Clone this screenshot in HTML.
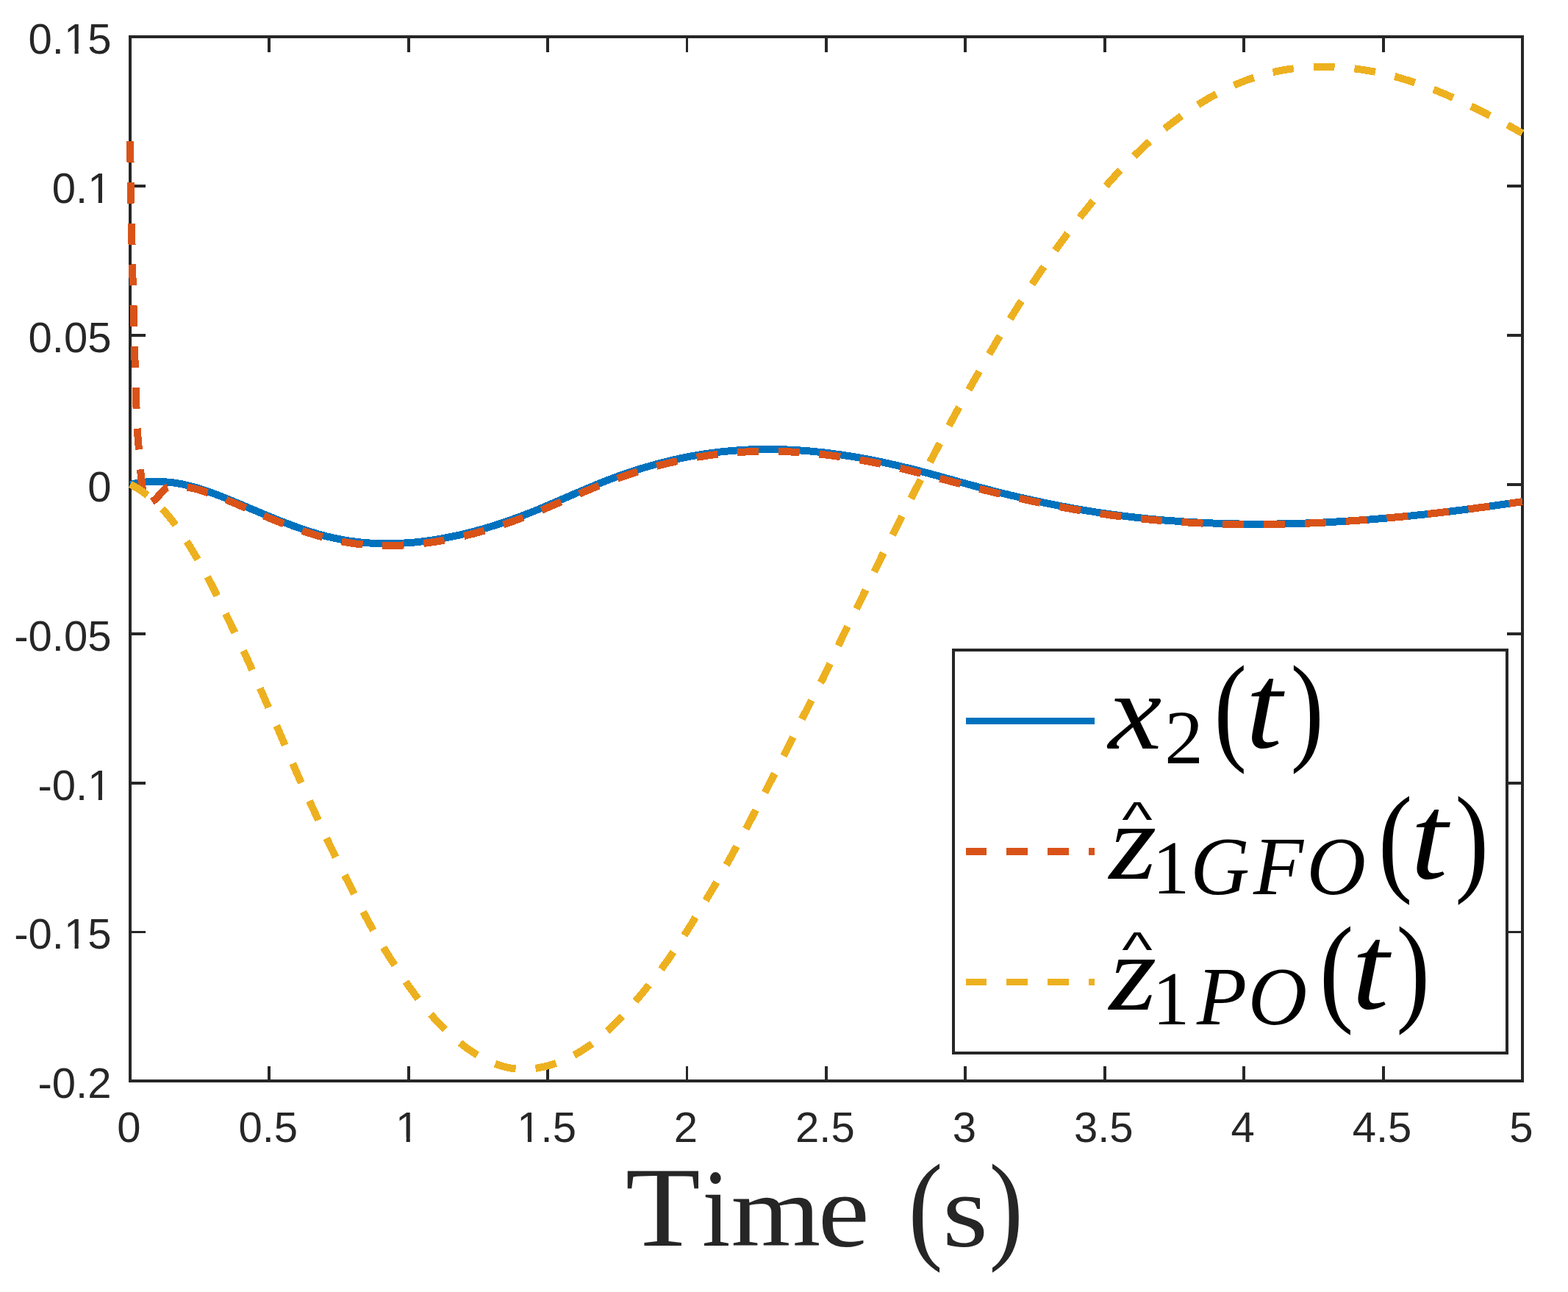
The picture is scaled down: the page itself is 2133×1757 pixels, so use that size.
<!DOCTYPE html>
<html lang="en"><head><meta charset="utf-8"><title>Time response plot</title>
<style>
html,body{margin:0;padding:0;background:#fff;}
body{width:2133px;height:1757px;}
svg{display:block;}
.tk{font-family:"Liberation Sans",sans-serif;}
.tl{font-size:58.00px;fill:#262626;}
.rm{font-family:"Liberation Serif",serif;}
.it{font-family:"Liberation Serif",serif;font-style:italic;}
.ax{stroke:#262626;stroke-width:4;fill:none;stroke-linecap:butt;}
.cv{fill:none;stroke-width:10;stroke-linejoin:round;stroke-linecap:butt;}
</style></head><body>
<svg width="2133" height="1757" viewBox="0 0 2133 1757">
<rect x="0" y="0" width="2133" height="1757" fill="#ffffff"/>
<g class="ax" shape-rendering="crispEdges">
<rect x="177" y="50" width="1894" height="1420"/>
</g>
<path fill="#262626" shape-rendering="crispEdges" d="M364,1450h4v18h-4z M364,52h4v19h-4z M554,1450h4v18h-4z M554,52h4v19h-4z M743,1450h4v18h-4z M743,52h4v19h-4z M933,1450h3v18h-3z M933,52h3v19h-3z M1122,1450h4v18h-4z M1122,52h4v19h-4z M1311,1450h4v18h-4z M1311,52h4v19h-4z M1501,1450h4v18h-4z M1501,52h4v19h-4z M1690,1450h4v18h-4z M1690,52h4v19h-4z M1880,1450h4v18h-4z M1880,52h4v19h-4z M179,1266h19v3h-19z M2050,1266h19v3h-19z M179,1063h19v4h-19z M2050,1063h19v4h-19z M179,860h19v4h-19z M2050,860h19v4h-19z M179,657h19v4h-19z M2050,657h19v4h-19z M179,454h19v4h-19z M2050,454h19v4h-19z M179,251h19v4h-19z M2050,251h19v4h-19z"/>
<g class="tk tl" text-anchor="middle">
<text x="175.4" y="1553.2">0</text>
<text x="364.8" y="1553.2">0.5</text>
<text x="554.2" y="1553.2">1</text>
<text x="743.6" y="1553.2">1.5</text>
<text x="933.0" y="1553.2">2</text>
<text x="1122.4" y="1553.2">2.5</text>
<text x="1311.8" y="1553.2">3</text>
<text x="1501.2" y="1553.2">3.5</text>
<text x="1690.6" y="1553.2">4</text>
<text x="1880.0" y="1553.2">4.5</text>
<text x="2069.4" y="1553.2">5</text>
</g>
<g class="tk tl" text-anchor="end">
<text x="151.5" y="1493.3">-0.2</text>
<text x="151.5" y="1290.4">-0.15</text>
<text x="151.5" y="1087.6">-0.1</text>
<text x="151.5" y="884.7">-0.05</text>
<text x="151.5" y="681.9">0</text>
<text x="151.5" y="479.0">0.05</text>
<text x="151.5" y="276.2">0.1</text>
<text x="151.5" y="73.3">0.15</text>
</g>
<!--MASKS-->
<path class="mk" fill="#ffffff" d="M541.49,1546.37H552.65V1554.70H541.49z M557.78,1546.37H568.49V1554.70H557.78z M706.70,1546.37H717.86V1554.70H706.70z M722.99,1546.37H733.70V1554.70H722.99z M90.39,1283.57H101.55V1291.90H90.39z M106.68,1283.57H117.39V1291.90H106.68z M122.64,1080.77H133.80V1089.10H122.64z M138.93,1080.77H149.64V1089.10H138.93z M122.64,269.37H133.80V277.70H122.64z M138.93,269.37H149.64V277.70H138.93z M90.39,66.47H101.55V74.80H90.39z M106.68,66.47H117.39V74.80H106.68z"/>
<g class="cv" shape-rendering="crispEdges">
<path stroke="#0072BD" d="M177.0,659.0 L180.0,658.3 L183.0,657.7 L186.0,657.1 L189.0,656.6 L192.0,656.2 L195.0,655.8 L198.0,655.5 L201.0,655.2 L204.0,655.1 L207.0,654.9 L210.0,654.9 L213.0,654.8 L216.0,654.9 L219.0,655.0 L222.0,655.1 L225.0,655.3 L228.0,655.6 L231.0,655.9 L234.0,656.2 L237.0,656.6 L240.0,657.1 L243.0,657.6 L246.0,658.1 L249.0,658.7 L252.0,659.4 L255.0,660.1 L258.0,660.8 L261.0,661.6 L264.0,662.4 L267.0,663.2 L270.0,664.1 L273.0,665.1 L276.0,666.0 L279.0,667.0 L282.0,668.1 L285.0,669.1 L288.0,670.2 L291.0,671.3 L294.0,672.4 L297.0,673.6 L300.0,674.7 L303.0,675.9 L306.0,677.1 L309.0,678.4 L312.0,679.6 L315.0,680.8 L318.0,682.1 L321.0,683.3 L324.0,684.6 L327.0,685.8 L330.0,687.1 L333.0,688.4 L336.0,689.6 L339.0,690.9 L342.0,692.2 L345.0,693.4 L348.0,694.7 L351.0,696.0 L354.0,697.2 L357.0,698.5 L360.0,699.7 L363.0,701.0 L366.0,702.2 L369.0,703.4 L372.0,704.7 L375.0,705.9 L378.0,707.1 L381.0,708.3 L384.0,709.4 L387.0,710.6 L390.0,711.7 L393.0,712.9 L396.0,714.0 L399.0,715.1 L402.0,716.2 L405.0,717.3 L408.0,718.3 L411.0,719.4 L414.0,720.4 L417.0,721.4 L420.0,722.3 L423.0,723.3 L426.0,724.2 L429.0,725.1 L432.0,726.0 L435.0,726.9 L438.0,727.7 L441.0,728.5 L444.0,729.3 L447.0,730.0 L450.0,730.7 L453.0,731.4 L456.0,732.1 L459.0,732.7 L462.0,733.3 L465.0,733.8 L468.0,734.4 L471.0,734.9 L474.0,735.4 L477.0,735.8 L480.0,736.2 L483.0,736.6 L486.0,737.0 L489.0,737.3 L492.0,737.6 L495.0,737.9 L498.0,738.2 L501.0,738.4 L504.0,738.6 L507.0,738.8 L510.0,738.9 L513.0,739.0 L516.0,739.1 L519.0,739.2 L522.0,739.3 L525.0,739.3 L528.0,739.3 L531.0,739.2 L534.0,739.2 L537.0,739.1 L540.0,739.0 L543.0,738.9 L546.0,738.8 L549.0,738.6 L552.0,738.4 L555.0,738.2 L558.0,738.0 L561.0,737.7 L564.0,737.5 L567.0,737.2 L570.0,736.8 L573.0,736.5 L576.0,736.2 L579.0,735.8 L582.0,735.4 L585.0,735.0 L588.0,734.5 L591.0,734.1 L594.0,733.6 L597.0,733.1 L600.0,732.6 L603.0,732.1 L606.0,731.5 L609.0,730.9 L612.0,730.3 L615.0,729.7 L618.0,729.1 L621.0,728.5 L624.0,727.8 L627.0,727.1 L630.0,726.4 L633.0,725.7 L636.0,724.9 L639.0,724.2 L642.0,723.4 L645.0,722.6 L648.0,721.8 L651.0,721.0 L654.0,720.2 L657.0,719.3 L660.0,718.4 L663.0,717.5 L666.0,716.6 L669.0,715.7 L672.0,714.8 L675.0,713.8 L678.0,712.9 L681.0,711.9 L684.0,710.9 L687.0,709.8 L690.0,708.8 L693.0,707.8 L696.0,706.7 L699.0,705.6 L702.0,704.5 L705.0,703.4 L708.0,702.3 L711.0,701.2 L714.0,700.0 L717.0,698.9 L720.0,697.7 L723.0,696.5 L726.0,695.3 L729.0,694.1 L732.0,692.9 L735.0,691.6 L738.0,690.4 L741.0,689.1 L744.0,687.8 L747.0,686.6 L750.0,685.3 L753.0,684.0 L756.0,682.7 L759.0,681.4 L762.0,680.1 L765.0,678.8 L768.0,677.5 L771.0,676.2 L774.0,674.9 L777.0,673.6 L780.0,672.3 L783.0,671.0 L786.0,669.7 L789.0,668.5 L792.0,667.2 L795.0,665.9 L798.0,664.6 L801.0,663.4 L804.0,662.1 L807.0,660.9 L810.0,659.6 L813.0,658.4 L816.0,657.2 L819.0,656.0 L822.0,654.8 L825.0,653.6 L828.0,652.5 L831.0,651.3 L834.0,650.2 L837.0,649.1 L840.0,648.0 L843.0,646.9 L846.0,645.8 L849.0,644.8 L852.0,643.7 L855.0,642.7 L858.0,641.7 L861.0,640.7 L864.0,639.8 L867.0,638.8 L870.0,637.9 L873.0,636.9 L876.0,636.0 L879.0,635.1 L882.0,634.3 L885.0,633.4 L888.0,632.6 L891.0,631.7 L894.0,630.9 L897.0,630.1 L900.0,629.3 L903.0,628.6 L906.0,627.8 L909.0,627.1 L912.0,626.4 L915.0,625.7 L918.0,625.0 L921.0,624.3 L924.0,623.7 L927.0,623.0 L930.0,622.4 L933.0,621.8 L936.0,621.2 L939.0,620.7 L942.0,620.1 L945.0,619.6 L948.0,619.1 L951.0,618.5 L954.0,618.1 L957.0,617.6 L960.0,617.1 L963.0,616.7 L966.0,616.3 L969.0,615.9 L972.0,615.5 L975.0,615.1 L978.0,614.7 L981.0,614.4 L984.0,614.1 L987.0,613.8 L990.0,613.5 L993.0,613.2 L996.0,612.9 L999.0,612.7 L1002.0,612.5 L1005.0,612.2 L1008.0,612.0 L1011.0,611.9 L1014.0,611.7 L1017.0,611.6 L1020.0,611.4 L1023.0,611.3 L1026.0,611.2 L1029.0,611.1 L1032.0,611.1 L1035.0,611.0 L1038.0,611.0 L1041.0,610.9 L1044.0,610.9 L1047.0,610.9 L1050.0,611.0 L1053.0,611.0 L1056.0,611.0 L1059.0,611.1 L1062.0,611.2 L1065.0,611.3 L1068.0,611.4 L1071.0,611.5 L1074.0,611.6 L1077.0,611.8 L1080.0,611.9 L1083.0,612.1 L1086.0,612.3 L1089.0,612.5 L1092.0,612.7 L1095.0,613.0 L1098.0,613.2 L1101.0,613.4 L1104.0,613.7 L1107.0,614.0 L1110.0,614.3 L1113.0,614.6 L1116.0,614.9 L1119.0,615.2 L1122.0,615.6 L1125.0,615.9 L1128.0,616.3 L1131.0,616.7 L1134.0,617.1 L1137.0,617.5 L1140.0,617.9 L1143.0,618.3 L1146.0,618.8 L1149.0,619.2 L1152.0,619.7 L1155.0,620.1 L1158.0,620.6 L1161.0,621.1 L1164.0,621.6 L1167.0,622.1 L1170.0,622.7 L1173.0,623.2 L1176.0,623.7 L1179.0,624.3 L1182.0,624.9 L1185.0,625.4 L1188.0,626.0 L1191.0,626.6 L1194.0,627.2 L1197.0,627.9 L1200.0,628.5 L1203.0,629.1 L1206.0,629.8 L1209.0,630.4 L1212.0,631.1 L1215.0,631.8 L1218.0,632.4 L1221.0,633.1 L1224.0,633.8 L1227.0,634.6 L1230.0,635.3 L1233.0,636.0 L1236.0,636.7 L1239.0,637.5 L1242.0,638.2 L1245.0,639.0 L1248.0,639.8 L1251.0,640.5 L1254.0,641.3 L1257.0,642.1 L1260.0,642.9 L1263.0,643.7 L1266.0,644.5 L1269.0,645.3 L1272.0,646.1 L1275.0,647.0 L1278.0,647.8 L1281.0,648.6 L1284.0,649.4 L1287.0,650.3 L1290.0,651.1 L1293.0,651.9 L1296.0,652.8 L1299.0,653.6 L1302.0,654.4 L1305.0,655.3 L1308.0,656.1 L1311.0,656.9 L1314.0,657.7 L1317.0,658.6 L1320.0,659.4 L1323.0,660.2 L1326.0,661.0 L1329.0,661.8 L1332.0,662.6 L1335.0,663.4 L1338.0,664.2 L1341.0,665.0 L1344.0,665.8 L1347.0,666.5 L1350.0,667.3 L1353.0,668.1 L1356.0,668.8 L1359.0,669.6 L1362.0,670.3 L1365.0,671.1 L1368.0,671.8 L1371.0,672.5 L1374.0,673.3 L1377.0,674.0 L1380.0,674.7 L1383.0,675.4 L1386.0,676.1 L1389.0,676.8 L1392.0,677.5 L1395.0,678.1 L1398.0,678.8 L1401.0,679.5 L1404.0,680.1 L1407.0,680.8 L1410.0,681.5 L1413.0,682.1 L1416.0,682.7 L1419.0,683.4 L1422.0,684.0 L1425.0,684.6 L1428.0,685.2 L1431.0,685.8 L1434.0,686.4 L1437.0,687.0 L1440.0,687.6 L1443.0,688.2 L1446.0,688.7 L1449.0,689.3 L1452.0,689.9 L1455.0,690.4 L1458.0,691.0 L1461.0,691.5 L1464.0,692.0 L1467.0,692.5 L1470.0,693.1 L1473.0,693.6 L1476.0,694.1 L1479.0,694.6 L1482.0,695.1 L1485.0,695.5 L1488.0,696.0 L1491.0,696.5 L1494.0,696.9 L1497.0,697.4 L1500.0,697.8 L1503.0,698.3 L1506.0,698.7 L1509.0,699.1 L1512.0,699.5 L1515.0,699.9 L1518.0,700.3 L1521.0,700.7 L1524.0,701.1 L1527.0,701.5 L1530.0,701.9 L1533.0,702.3 L1536.0,702.6 L1539.0,703.0 L1542.0,703.3 L1545.0,703.7 L1548.0,704.0 L1551.0,704.3 L1554.0,704.6 L1557.0,704.9 L1560.0,705.3 L1563.0,705.6 L1566.0,705.8 L1569.0,706.1 L1572.0,706.4 L1575.0,706.7 L1578.0,707.0 L1581.0,707.2 L1584.0,707.5 L1587.0,707.7 L1590.0,708.0 L1593.0,708.2 L1596.0,708.4 L1599.0,708.6 L1602.0,708.9 L1605.0,709.1 L1608.0,709.3 L1611.0,709.5 L1614.0,709.7 L1617.0,709.8 L1620.0,710.0 L1623.0,710.2 L1626.0,710.4 L1629.0,710.5 L1632.0,710.7 L1635.0,710.8 L1638.0,711.0 L1641.0,711.1 L1644.0,711.2 L1647.0,711.4 L1650.0,711.5 L1653.0,711.6 L1656.0,711.7 L1659.0,711.8 L1662.0,711.9 L1665.0,712.0 L1668.0,712.1 L1671.0,712.1 L1674.0,712.2 L1677.0,712.3 L1680.0,712.3 L1683.0,712.4 L1686.0,712.5 L1689.0,712.5 L1692.0,712.5 L1695.0,712.6 L1698.0,712.6 L1701.0,712.6 L1704.0,712.6 L1707.0,712.6 L1710.0,712.7 L1713.0,712.7 L1716.0,712.7 L1719.0,712.6 L1722.0,712.6 L1725.0,712.6 L1728.0,712.6 L1731.0,712.6 L1734.0,712.5 L1737.0,712.5 L1740.0,712.4 L1743.0,712.4 L1746.0,712.3 L1749.0,712.3 L1752.0,712.2 L1755.0,712.1 L1758.0,712.1 L1761.0,712.0 L1764.0,711.9 L1767.0,711.8 L1770.0,711.7 L1773.0,711.6 L1776.0,711.5 L1779.0,711.4 L1782.0,711.3 L1785.0,711.2 L1788.0,711.0 L1791.0,710.9 L1794.0,710.8 L1797.0,710.6 L1800.0,710.5 L1803.0,710.3 L1806.0,710.2 L1809.0,710.0 L1812.0,709.9 L1815.0,709.7 L1818.0,709.5 L1821.0,709.4 L1824.0,709.2 L1827.0,709.0 L1830.0,708.8 L1833.0,708.6 L1836.0,708.4 L1839.0,708.2 L1842.0,708.0 L1845.0,707.8 L1848.0,707.6 L1851.0,707.4 L1854.0,707.2 L1857.0,707.0 L1860.0,706.7 L1863.0,706.5 L1866.0,706.3 L1869.0,706.0 L1872.0,705.8 L1875.0,705.5 L1878.0,705.3 L1881.0,705.0 L1884.0,704.8 L1887.0,704.5 L1890.0,704.2 L1893.0,704.0 L1896.0,703.7 L1899.0,703.4 L1902.0,703.1 L1905.0,702.8 L1908.0,702.5 L1911.0,702.3 L1914.0,702.0 L1917.0,701.7 L1920.0,701.4 L1923.0,701.0 L1926.0,700.7 L1929.0,700.4 L1932.0,700.1 L1935.0,699.8 L1938.0,699.5 L1941.0,699.1 L1944.0,698.8 L1947.0,698.5 L1950.0,698.1 L1953.0,697.8 L1956.0,697.4 L1959.0,697.1 L1962.0,696.7 L1965.0,696.4 L1968.0,696.0 L1971.0,695.7 L1974.0,695.3 L1977.0,694.9 L1980.0,694.6 L1983.0,694.2 L1986.0,693.8 L1989.0,693.5 L1992.0,693.1 L1995.0,692.7 L1998.0,692.3 L2001.0,691.9 L2004.0,691.5 L2007.0,691.1 L2010.0,690.7 L2013.0,690.3 L2016.0,689.9 L2019.0,689.5 L2022.0,689.1 L2025.0,688.7 L2028.0,688.3 L2031.0,687.9 L2034.0,687.4 L2037.0,687.0 L2040.0,686.6 L2043.0,686.2 L2046.0,685.7 L2049.0,685.3 L2052.0,684.9 L2055.0,684.4 L2058.0,684.0 L2061.0,683.6 L2064.0,683.1 L2067.0,682.7 L2070.0,682.2 L2071.0,682.1"/>
<path stroke="#D95319" stroke-dasharray="28.9 26.94" d="M177.0,192.0 L177.0,194.0 L177.1,196.0 L177.1,198.0 L177.1,200.0 L177.2,202.0 L177.2,204.0 L177.2,206.0 L177.3,208.0 L177.3,210.0 L177.3,212.0 L177.4,214.0 L177.4,216.0 L177.4,218.0 L177.5,220.0 L177.5,222.0 L177.5,224.0 L177.6,226.0 L177.6,228.0 L177.6,230.0 L177.7,232.0 L177.7,234.0 L177.7,236.0 L177.8,238.0 L177.8,240.0 L177.9,242.0 L177.9,244.0 L177.9,246.0 L178.0,248.0 L178.0,250.0 L178.0,252.0 L178.1,254.0 L178.1,256.0 L178.1,258.0 L178.2,260.0 L178.2,262.0 L178.2,264.0 L178.3,266.0 L178.3,268.0 L178.3,270.0 L178.4,272.0 L178.4,274.0 L178.4,276.0 L178.5,278.0 L178.5,280.0 L178.5,282.0 L178.6,284.0 L178.6,286.0 L178.7,288.0 L178.7,290.0 L178.7,292.0 L178.8,294.0 L178.8,296.0 L178.8,298.0 L178.9,300.0 L178.9,302.0 L178.9,304.0 L179.0,306.0 L179.0,308.0 L179.0,310.0 L179.1,312.0 L179.1,314.0 L179.2,316.0 L179.2,318.0 L179.2,320.0 L179.3,322.0 L179.3,324.0 L179.4,326.0 L179.4,328.0 L179.4,330.0 L179.5,332.0 L179.5,334.0 L179.6,336.0 L179.6,338.0 L179.6,340.0 L179.7,342.0 L179.7,344.0 L179.8,346.0 L179.8,348.0 L179.9,350.0 L179.9,352.0 L179.9,354.0 L180.0,356.0 L180.0,358.0 L180.1,360.0 L180.1,362.0 L180.2,364.0 L180.2,366.0 L180.3,368.0 L180.3,370.0 L180.4,372.0 L180.4,374.0 L180.4,376.0 L180.5,378.0 L180.5,380.0 L180.6,382.0 L180.6,384.0 L180.7,386.0 L180.7,388.0 L180.8,390.0 L180.8,392.0 L180.9,394.0 L181.0,396.0 L181.0,398.0 L181.1,400.0 L181.1,402.0 L181.2,404.0 L181.2,406.0 L181.3,408.0 L181.3,410.0 L181.4,412.0 L181.4,414.0 L181.5,416.0 L181.6,418.0 L181.6,420.0 L181.7,422.0 L181.7,424.0 L181.8,425.9 L181.8,427.9 L181.9,429.9 L182.0,431.9 L182.0,433.9 L182.1,435.9 L182.1,437.9 L182.2,439.9 L182.2,441.9 L182.3,443.9 L182.3,445.9 L182.4,447.9 L182.4,449.9 L182.5,451.9 L182.6,453.9 L182.6,455.9 L182.7,457.9 L182.7,459.9 L182.8,461.9 L182.8,463.9 L182.9,465.9 L182.9,467.9 L183.0,469.9 L183.0,471.9 L183.1,473.9 L183.1,475.9 L183.2,477.9 L183.2,479.9 L183.3,481.9 L183.3,483.9 L183.4,485.9 L183.4,487.9 L183.5,489.9 L183.5,491.9 L183.6,493.9 L183.7,495.9 L183.7,497.9 L183.8,499.9 L183.8,501.9 L183.9,503.9 L183.9,505.9 L184.0,507.9 L184.0,509.9 L184.1,511.9 L184.2,513.9 L184.2,515.9 L184.3,517.9 L184.3,519.9 L184.4,521.9 L184.5,523.9 L184.5,525.9 L184.6,527.9 L184.7,529.9 L184.7,531.9 L184.8,533.9 L184.9,535.9 L184.9,537.9 L185.0,539.9 L185.1,541.9 L185.1,543.9 L185.2,545.9 L185.3,547.9 L185.4,549.9 L185.4,551.9 L185.5,553.9 L185.6,555.9 L185.7,557.9 L185.8,559.9 L185.8,561.9 L185.9,563.9 L186.0,565.9 L186.1,567.9 L186.2,569.9 L186.3,571.9 L186.4,573.9 L186.5,575.9 L186.6,577.9 L186.6,579.9 L186.7,581.9 L186.8,583.9 L187.0,585.9 L187.1,587.9 L187.2,589.9 L187.4,591.8 L187.5,593.8 L187.7,595.8 L187.8,597.8 L188.0,599.8 L188.2,601.8 L188.3,603.8 L188.5,605.8 L188.7,607.8 L188.8,609.8 L189.0,611.8 L189.2,613.8 L189.3,615.8 L189.4,617.8 L189.6,619.8 L189.7,621.8 L189.9,623.8 L190.0,625.7 L190.2,627.7 L190.3,629.7 L190.5,631.7 L190.7,633.7 L190.8,635.7 L191.0,637.7 L191.2,639.7 L191.3,641.7 L191.5,643.7 L191.7,645.7 L191.9,647.7 L192.1,649.7 L192.3,651.7 L192.5,653.7 L192.7,655.6 L192.9,657.6 L193.1,659.6 L193.4,661.6 L193.6,663.6 L193.9,665.6 L194.1,667.6 L194.4,669.6 L194.7,671.6 L195.1,673.6 L195.5,675.6 L195.9,677.5 L196.4,679.3 L197.1,681.4 L198.1,683.6 L199.4,684.7 L201.2,684.6 L203.3,684.2 L205.1,683.5 L206.9,682.4 L208.5,681.3 L210.0,680.1 L211.5,678.7 L212.9,677.3 L214.3,675.8 L215.7,674.3 L217.1,672.9 L218.5,671.4 L219.9,669.8 L221.3,668.1 L222.7,666.5 L224.1,665.1 L225.6,664.0 L227.2,663.2 L229.0,662.6 L230.8,662.2 L232.8,661.7 L234.9,661.4 L237.0,661.2 L239.0,661.0 L241.0,661.0 L243.0,661.1 L245.0,661.3 L247.0,661.5 L249.0,661.8 L251.0,662.1 L252.9,662.4 L254.9,662.7 L256.9,663.1 L258.8,663.4 L260.8,663.8 L262.7,664.2 L264.7,664.6 L266.6,665.1 L268.5,665.6 L270.5,666.1 L272.4,666.7 L274.3,667.3 L276.2,667.9 L278.2,668.5 L280.1,669.2 L282.0,669.8 L283.8,670.2 L286.8,671.3 L289.8,672.4 L292.8,673.5 L295.8,674.7 L298.8,675.9 L301.8,677.1 L304.8,678.3 L307.8,679.6 L310.8,680.8 L313.8,682.1 L316.8,683.3 L319.8,684.6 L322.8,685.9 L325.8,687.2 L328.8,688.5 L331.8,689.8 L334.8,691.0 L337.8,692.3 L340.8,693.6 L343.8,694.9 L346.8,696.2 L349.8,697.5 L352.8,698.7 L355.8,700.0 L358.8,701.3 L361.8,702.5 L364.8,703.8 L367.8,705.1 L370.8,706.3 L373.8,707.5 L376.8,708.7 L379.8,710.0 L382.8,711.2 L385.8,712.3 L388.8,713.5 L391.8,714.7 L394.8,715.8 L397.8,717.0 L400.8,718.1 L403.8,719.2 L406.8,720.2 L409.8,721.3 L412.8,722.3 L415.8,723.4 L418.8,724.4 L421.8,725.3 L424.8,726.3 L427.8,727.2 L430.8,728.1 L433.8,729.0 L436.8,729.9 L439.8,730.7 L442.8,731.5 L445.8,732.3 L448.8,733.0 L451.8,733.7 L454.8,734.4 L457.8,735.0 L460.8,735.7 L463.8,736.3 L466.8,736.8 L469.8,737.3 L472.8,737.8 L475.8,738.3 L478.8,738.8 L481.8,739.2 L484.8,739.6 L487.8,739.9 L490.8,740.2 L493.8,740.5 L496.8,740.8 L499.8,741.1 L502.8,741.3 L505.8,741.5 L508.8,741.6 L511.8,741.8 L514.8,741.9 L517.8,742.0 L520.8,742.0 L523.8,742.1 L526.8,742.1 L529.8,742.1 L532.8,742.0 L535.8,742.0 L538.8,741.9 L541.8,741.8 L544.8,741.6 L547.8,741.5 L550.8,741.3 L553.8,741.1 L556.8,740.9 L559.8,740.6 L562.8,740.4 L565.8,740.1 L568.8,739.8 L571.8,739.4 L574.8,739.1 L577.8,738.7 L580.8,738.3 L583.8,737.9 L586.8,737.5 L589.8,737.1 L592.8,736.6 L595.8,736.1 L598.8,735.6 L601.8,735.1 L604.8,734.5 L607.8,734.0 L610.8,733.4 L613.8,732.8 L616.8,732.2 L619.8,731.5 L622.8,730.9 L625.8,730.2 L628.8,729.5 L631.8,728.8 L634.8,728.0 L637.8,727.3 L640.8,726.5 L643.8,725.8 L646.8,725.0 L649.8,724.1 L652.8,723.3 L655.8,722.5 L658.8,721.6 L661.8,720.7 L664.8,719.8 L667.8,718.9 L670.8,718.0 L673.8,717.0 L676.8,716.0 L679.8,715.1 L682.8,714.1 L685.8,713.1 L688.8,712.0 L691.8,711.0 L694.8,709.9 L697.8,708.9 L700.8,707.8 L703.8,706.7 L706.8,705.6 L709.8,704.4 L712.8,703.3 L715.8,702.1 L718.8,701.0 L721.8,699.8 L724.8,698.6 L727.8,697.4 L730.8,696.1 L733.8,694.9 L736.8,693.7 L739.8,692.4 L742.8,691.2 L745.8,689.9 L748.8,688.6 L751.8,687.3 L754.8,686.0 L757.8,684.7 L760.8,683.5 L763.8,682.2 L766.8,680.9 L769.8,679.6 L772.8,678.3 L775.8,677.0 L778.8,675.7 L781.8,674.4 L784.8,673.1 L787.8,671.8 L790.8,670.5 L793.8,669.2 L796.8,667.9 L799.8,666.7 L802.8,665.4 L805.8,664.2 L808.8,662.9 L811.8,661.7 L814.8,660.5 L817.8,659.3 L820.8,658.1 L823.8,656.9 L826.8,655.7 L829.8,654.6 L832.8,653.4 L835.8,652.3 L838.8,651.2 L841.8,650.1 L844.8,649.0 L847.8,648.0 L850.8,647.0 L853.8,645.9 L856.8,644.9 L859.8,643.9 L862.8,642.9 L865.8,642.0 L868.8,641.0 L871.8,640.1 L874.8,639.2 L877.8,638.3 L880.8,637.4 L883.8,636.5 L886.8,635.7 L889.8,634.9 L892.8,634.0 L895.8,633.2 L898.8,632.5 L901.8,631.7 L904.8,630.9 L907.8,630.2 L910.8,629.5 L913.8,628.8 L916.8,628.1 L919.8,627.4 L922.8,626.7 L925.8,626.1 L928.8,625.5 L931.8,624.9 L934.8,624.3 L937.8,623.7 L940.8,623.1 L943.8,622.6 L946.8,622.1 L949.8,621.5 L952.8,621.0 L955.8,620.6 L958.8,620.1 L961.8,619.7 L964.8,619.2 L967.8,618.8 L970.8,618.4 L973.8,618.0 L976.8,617.7 L979.8,617.3 L982.8,617.0 L985.8,616.7 L988.8,616.4 L991.8,616.1 L994.8,615.8 L997.8,615.6 L1000.8,615.3 L1003.8,615.1 L1006.8,614.9 L1009.8,614.7 L1012.8,614.6 L1015.8,614.4 L1018.8,614.3 L1021.8,614.2 L1024.8,614.1 L1027.8,614.0 L1030.8,613.9 L1033.8,613.8 L1036.8,613.8 L1039.8,613.7 L1042.8,613.7 L1045.8,613.7 L1048.8,613.7 L1051.8,613.8 L1054.8,613.8 L1057.8,613.9 L1060.8,613.9 L1063.8,614.0 L1066.8,614.1 L1069.8,614.3 L1072.8,614.4 L1075.8,614.5 L1078.8,614.7 L1081.8,614.8 L1084.8,615.0 L1087.8,615.2 L1090.8,615.4 L1093.8,615.7 L1096.8,615.9 L1099.8,616.1 L1102.8,616.4 L1105.8,616.7 L1108.8,617.0 L1111.8,617.3 L1114.8,617.6 L1117.8,617.9 L1120.8,618.2 L1123.8,618.6 L1126.8,619.0 L1129.8,619.3 L1132.8,619.7 L1135.8,620.1 L1138.8,620.5 L1141.8,620.9 L1144.8,621.4 L1147.8,621.8 L1150.8,622.3 L1153.8,622.7 L1156.8,623.2 L1159.8,623.7 L1162.8,624.2 L1165.8,624.7 L1168.8,625.2 L1171.8,625.8 L1174.8,626.3 L1177.8,626.9 L1180.8,627.4 L1183.8,628.0 L1186.8,628.6 L1189.8,629.2 L1192.8,629.8 L1195.8,630.4 L1198.8,631.0 L1201.8,631.7 L1204.8,632.3 L1207.8,633.0 L1210.8,633.6 L1213.8,634.3 L1216.8,635.0 L1219.8,635.7 L1222.8,636.4 L1225.8,637.1 L1228.8,637.8 L1231.8,638.5 L1234.8,639.2 L1237.8,640.0 L1240.8,640.7 L1243.8,641.5 L1246.8,642.3 L1249.8,643.0 L1252.8,643.8 L1255.8,644.6 L1258.8,645.4 L1261.8,646.2 L1264.8,647.0 L1267.8,647.8 L1270.8,648.6 L1273.8,649.4 L1276.8,650.2 L1279.8,651.0 L1282.8,651.8 L1285.8,652.6 L1288.8,653.4 L1291.8,654.2 L1294.8,655.0 L1297.8,655.8 L1300.8,656.6 L1303.8,657.4 L1306.8,658.2 L1309.8,659.0 L1312.8,659.7 L1315.8,660.5 L1318.8,661.3 L1321.8,662.1 L1324.8,662.9 L1327.8,663.6 L1330.8,664.4 L1333.8,665.2 L1336.8,665.9 L1339.8,666.7 L1342.8,667.4 L1345.8,668.1 L1348.8,668.9 L1351.8,669.6 L1354.8,670.3 L1357.8,671.0 L1360.8,671.8 L1363.8,672.5 L1366.8,673.2 L1369.8,673.9 L1372.8,674.6 L1375.8,675.3 L1378.8,675.9 L1381.8,676.6 L1384.8,677.3 L1387.8,678.0 L1390.8,678.6 L1393.8,679.3 L1396.8,680.0 L1399.8,680.6 L1402.8,681.3 L1405.8,681.9 L1408.8,682.6 L1411.8,683.2 L1414.8,683.8 L1417.8,684.4 L1420.8,685.1 L1423.8,685.7 L1426.8,686.3 L1429.8,686.9 L1432.8,687.5 L1435.8,688.0 L1438.8,688.6 L1441.8,689.2 L1444.8,689.8 L1447.8,690.3 L1450.8,690.9 L1453.8,691.4 L1456.8,692.0 L1459.8,692.5 L1462.8,693.0 L1465.8,693.5 L1468.8,694.0 L1471.8,694.6 L1474.8,695.1 L1477.8,695.5 L1480.8,696.0 L1483.8,696.5 L1486.8,697.0 L1489.8,697.4 L1492.8,697.9 L1495.8,698.3 L1498.8,698.8 L1501.8,699.2 L1504.8,699.6 L1507.8,700.1 L1510.8,700.5 L1513.8,700.9 L1516.8,701.3 L1519.8,701.7 L1522.8,702.0 L1525.8,702.4 L1528.8,702.8 L1531.8,703.2 L1534.8,703.5 L1537.8,703.9 L1540.8,704.2 L1543.8,704.5 L1546.8,704.9 L1549.8,705.2 L1552.8,705.5 L1555.8,705.8 L1558.8,706.1 L1561.8,706.4 L1564.8,706.7 L1567.8,707.0 L1570.8,707.2 L1573.8,707.5 L1576.8,707.8 L1579.8,708.0 L1582.8,708.3 L1585.8,708.5 L1588.8,708.7 L1591.8,709.0 L1594.8,709.2 L1597.8,709.4 L1600.8,709.6 L1603.8,709.8 L1606.8,710.0 L1609.8,710.2 L1612.8,710.4 L1615.8,710.5 L1618.8,710.7 L1621.8,710.9 L1624.8,711.0 L1627.8,711.2 L1630.8,711.3 L1633.8,711.5 L1636.8,711.6 L1639.8,711.7 L1642.8,711.9 L1645.8,712.0 L1648.8,712.1 L1651.8,712.2 L1654.8,712.3 L1657.8,712.4 L1660.8,712.5 L1663.8,712.6 L1666.8,712.6 L1669.8,712.7 L1672.8,712.8 L1675.8,712.8 L1678.8,712.9 L1681.8,712.9 L1684.8,713.0 L1687.8,713.0 L1690.8,713.0 L1693.8,713.1 L1696.8,713.1 L1699.8,713.1 L1702.8,713.1 L1705.8,713.1 L1708.8,713.1 L1711.8,713.1 L1714.8,713.1 L1717.8,713.1 L1720.8,713.1 L1723.8,713.0 L1726.8,713.0 L1729.8,713.0 L1732.8,712.9 L1735.8,712.9 L1738.8,712.8 L1741.8,712.8 L1744.8,712.7 L1747.8,712.6 L1750.8,712.6 L1753.8,712.5 L1756.8,712.4 L1759.8,712.3 L1762.8,712.2 L1765.8,712.1 L1768.8,712.0 L1771.8,711.9 L1774.8,711.8 L1777.8,711.7 L1780.8,711.6 L1783.8,711.4 L1786.8,711.3 L1789.8,711.2 L1792.8,711.0 L1795.8,710.9 L1798.8,710.7 L1801.8,710.6 L1804.8,710.4 L1807.8,710.3 L1810.8,710.1 L1813.8,709.9 L1816.8,709.7 L1819.8,709.6 L1822.8,709.4 L1825.8,709.2 L1828.8,709.0 L1831.8,708.8 L1834.8,708.6 L1837.8,708.4 L1840.8,708.2 L1843.8,708.0 L1846.8,707.8 L1849.8,707.5 L1852.8,707.3 L1855.8,707.1 L1858.8,706.9 L1861.8,706.6 L1864.8,706.4 L1867.8,706.1 L1870.8,705.9 L1873.8,705.6 L1876.8,705.4 L1879.8,705.1 L1882.8,704.9 L1885.8,704.6 L1888.8,704.3 L1891.8,704.1 L1894.8,703.8 L1897.8,703.5 L1900.8,703.2 L1903.8,703.0 L1906.8,702.7 L1909.8,702.4 L1912.8,702.1 L1915.8,701.8 L1918.8,701.5 L1921.8,701.2 L1924.8,700.9 L1927.8,700.5 L1930.8,700.2 L1933.8,699.9 L1936.8,699.6 L1939.8,699.3 L1942.8,698.9 L1945.8,698.6 L1948.8,698.3 L1951.8,697.9 L1954.8,697.6 L1957.8,697.2 L1960.8,696.9 L1963.8,696.5 L1966.8,696.2 L1969.8,695.8 L1972.8,695.5 L1975.8,695.1 L1978.8,694.7 L1981.8,694.4 L1984.8,694.0 L1987.8,693.6 L1990.8,693.2 L1993.8,692.8 L1996.8,692.5 L1999.8,692.1 L2002.8,691.7 L2005.8,691.3 L2008.8,690.9 L2011.8,690.5 L2014.8,690.1 L2017.8,689.7 L2020.8,689.3 L2023.8,688.9 L2026.8,688.4 L2029.8,688.0 L2032.8,687.6 L2035.8,687.2 L2038.8,686.8 L2041.8,686.3 L2044.8,685.9 L2047.8,685.5 L2050.8,685.1 L2053.8,684.6 L2056.8,684.2 L2059.8,683.7 L2062.8,683.3 L2065.8,682.9 L2068.8,682.4 L2071.0,682.1"/>
<path stroke="#EDB120" stroke-dasharray="28.8 27.01" stroke-dashoffset="0.8" d="M177.0,658.6 L180.0,660.1 L183.0,661.8 L186.0,663.5 L189.0,665.4 L192.0,667.3 L195.0,669.4 L198.0,671.6 L201.0,673.9 L204.0,676.3 L207.0,678.9 L210.0,681.6 L213.0,684.4 L216.0,687.3 L219.0,690.4 L222.0,693.6 L225.0,696.9 L228.0,700.4 L231.0,704.0 L234.0,707.8 L237.0,711.7 L240.0,715.8 L243.0,720.0 L246.0,724.3 L249.0,728.7 L252.0,733.3 L255.0,737.9 L258.0,742.6 L261.0,747.5 L264.0,752.4 L267.0,757.4 L270.0,762.6 L273.0,767.8 L276.0,773.1 L279.0,778.6 L282.0,784.1 L285.0,789.8 L288.0,795.6 L291.0,801.6 L294.0,807.6 L297.0,813.8 L300.0,820.0 L303.0,826.2 L306.0,832.5 L309.0,838.8 L312.0,845.1 L315.0,851.3 L318.0,857.5 L321.0,863.7 L324.0,870.0 L327.0,876.2 L330.0,882.5 L333.0,888.9 L336.0,895.4 L339.0,902.0 L342.0,908.8 L345.0,915.6 L348.0,922.5 L351.0,929.4 L354.0,936.4 L357.0,943.3 L360.0,950.2 L363.0,957.0 L366.0,963.8 L369.0,970.5 L372.0,977.3 L375.0,984.1 L378.0,990.9 L381.0,997.8 L384.0,1004.7 L387.0,1011.8 L390.0,1018.8 L393.0,1025.9 L396.0,1033.0 L399.0,1040.0 L402.0,1047.0 L405.0,1053.9 L408.0,1060.6 L411.0,1067.3 L414.0,1073.9 L417.0,1080.5 L420.0,1087.1 L423.0,1093.6 L426.0,1100.1 L429.0,1106.6 L432.0,1113.2 L435.0,1119.7 L438.0,1126.3 L441.0,1132.8 L444.0,1139.2 L447.0,1145.6 L450.0,1151.9 L453.0,1158.2 L456.0,1164.3 L459.0,1170.4 L462.0,1176.4 L465.0,1182.4 L468.0,1188.3 L471.0,1194.3 L474.0,1200.2 L477.0,1206.2 L480.0,1212.2 L483.0,1218.1 L486.0,1224.1 L489.0,1230.0 L492.0,1235.9 L495.0,1241.7 L498.0,1247.4 L501.0,1253.0 L504.0,1258.5 L507.0,1263.8 L510.0,1269.0 L513.0,1274.2 L516.0,1279.2 L519.0,1284.2 L522.0,1289.1 L525.0,1293.9 L528.0,1298.7 L531.0,1303.4 L534.0,1308.1 L537.0,1312.8 L540.0,1317.3 L543.0,1321.9 L546.0,1326.4 L549.0,1330.8 L552.0,1335.2 L555.0,1339.5 L558.0,1343.7 L561.0,1347.8 L564.0,1351.9 L567.0,1355.9 L570.0,1359.8 L573.0,1363.7 L576.0,1367.5 L579.0,1371.1 L582.0,1374.7 L585.0,1378.3 L588.0,1381.7 L591.0,1385.1 L594.0,1388.4 L597.0,1391.6 L600.0,1394.7 L603.0,1397.7 L606.0,1400.7 L609.0,1403.5 L612.0,1406.3 L615.0,1409.0 L618.0,1411.7 L621.0,1414.2 L624.0,1416.7 L627.0,1419.1 L630.0,1421.4 L633.0,1423.7 L636.0,1425.9 L639.0,1428.0 L642.0,1430.0 L645.0,1432.0 L648.0,1433.9 L651.0,1435.7 L654.0,1437.4 L657.0,1439.0 L660.0,1440.6 L663.0,1442.1 L666.0,1443.5 L669.0,1444.8 L672.0,1446.0 L675.0,1447.2 L678.0,1448.2 L681.0,1449.2 L684.0,1450.1 L687.0,1450.9 L690.0,1451.6 L693.0,1452.2 L696.0,1452.7 L699.0,1453.1 L702.0,1453.4 L705.0,1453.7 L708.0,1453.8 L711.0,1453.9 L714.0,1453.9 L717.0,1453.8 L720.0,1453.7 L723.0,1453.4 L726.0,1453.1 L729.0,1452.7 L732.0,1452.2 L735.0,1451.7 L738.0,1451.1 L741.0,1450.4 L744.0,1449.6 L747.0,1448.8 L750.0,1447.9 L753.0,1447.0 L756.0,1446.0 L759.0,1444.9 L762.0,1443.7 L765.0,1442.5 L768.0,1441.2 L771.0,1439.8 L774.0,1438.4 L777.0,1436.9 L780.0,1435.3 L783.0,1433.7 L786.0,1432.0 L789.0,1430.2 L792.0,1428.3 L795.0,1426.4 L798.0,1424.4 L801.0,1422.3 L804.0,1420.2 L807.0,1418.0 L810.0,1415.7 L813.0,1413.4 L816.0,1410.9 L819.0,1408.4 L822.0,1405.9 L825.0,1403.2 L828.0,1400.5 L831.0,1397.7 L834.0,1394.8 L837.0,1391.8 L840.0,1388.8 L843.0,1385.6 L846.0,1382.4 L849.0,1379.2 L852.0,1375.9 L855.0,1372.5 L858.0,1369.1 L861.0,1365.6 L864.0,1362.1 L867.0,1358.6 L870.0,1355.0 L873.0,1351.4 L876.0,1347.8 L879.0,1344.1 L882.0,1340.4 L885.0,1336.7 L888.0,1332.9 L891.0,1329.1 L894.0,1325.2 L897.0,1321.3 L900.0,1317.3 L903.0,1313.2 L906.0,1309.1 L909.0,1304.9 L912.0,1300.5 L915.0,1296.1 L918.0,1291.7 L921.0,1287.2 L924.0,1282.6 L927.0,1277.9 L930.0,1273.3 L933.0,1268.5 L936.0,1263.8 L939.0,1259.0 L942.0,1254.2 L945.0,1249.3 L948.0,1244.4 L951.0,1239.5 L954.0,1234.6 L957.0,1229.6 L960.0,1224.7 L963.0,1219.6 L966.0,1214.6 L969.0,1209.5 L972.0,1204.4 L975.0,1199.2 L978.0,1194.0 L981.0,1188.8 L984.0,1183.5 L987.0,1178.2 L990.0,1172.8 L993.0,1167.4 L996.0,1162.0 L999.0,1156.5 L1002.0,1151.0 L1005.0,1145.4 L1008.0,1139.8 L1011.0,1134.2 L1014.0,1128.5 L1017.0,1122.9 L1020.0,1117.2 L1023.0,1111.5 L1026.0,1105.7 L1029.0,1100.0 L1032.0,1094.2 L1035.0,1088.5 L1038.0,1082.7 L1041.0,1076.9 L1044.0,1071.1 L1047.0,1065.3 L1050.0,1059.4 L1053.0,1053.6 L1056.0,1047.7 L1059.0,1041.8 L1062.0,1035.9 L1065.0,1030.0 L1068.0,1024.0 L1071.0,1018.0 L1074.0,1012.0 L1077.0,1005.9 L1080.0,999.8 L1083.0,993.7 L1086.0,987.7 L1089.0,981.6 L1092.0,975.6 L1095.0,969.7 L1098.0,963.8 L1101.0,958.1 L1104.0,952.3 L1107.0,946.6 L1110.0,940.9 L1113.0,935.1 L1116.0,929.3 L1119.0,923.4 L1122.0,917.3 L1125.0,911.1 L1128.0,904.8 L1131.0,898.4 L1134.0,891.9 L1137.0,885.4 L1140.0,878.9 L1143.0,872.5 L1146.0,866.2 L1149.0,859.9 L1152.0,853.8 L1155.0,847.8 L1158.0,841.8 L1161.0,835.9 L1164.0,829.9 L1167.0,824.0 L1170.0,817.9 L1173.0,811.8 L1176.0,805.7 L1179.0,799.4 L1182.0,793.1 L1185.0,786.8 L1188.0,780.5 L1191.0,774.2 L1194.0,768.0 L1197.0,761.8 L1200.0,755.7 L1203.0,749.6 L1206.0,743.6 L1209.0,737.6 L1212.0,731.7 L1215.0,725.8 L1218.0,719.8 L1221.0,713.9 L1224.0,708.0 L1227.0,702.0 L1230.0,696.1 L1233.0,690.2 L1236.0,684.2 L1239.0,678.3 L1242.0,672.5 L1245.0,666.6 L1248.0,660.8 L1251.0,655.1 L1254.0,649.4 L1257.0,643.7 L1260.0,638.0 L1263.0,632.3 L1266.0,626.6 L1269.0,620.9 L1272.0,615.2 L1275.0,609.5 L1278.0,603.8 L1281.0,598.1 L1284.0,592.3 L1287.0,586.6 L1290.0,581.0 L1293.0,575.3 L1296.0,569.7 L1299.0,564.2 L1302.0,558.6 L1305.0,553.2 L1308.0,547.8 L1311.0,542.4 L1314.0,537.0 L1317.0,531.7 L1320.0,526.4 L1323.0,521.1 L1326.0,515.8 L1329.0,510.6 L1332.0,505.3 L1335.0,500.1 L1338.0,494.9 L1341.0,489.7 L1344.0,484.5 L1347.0,479.3 L1350.0,474.2 L1353.0,469.0 L1356.0,463.9 L1359.0,458.9 L1362.0,453.8 L1365.0,448.8 L1368.0,443.8 L1371.0,438.9 L1374.0,434.0 L1377.0,429.1 L1380.0,424.3 L1383.0,419.4 L1386.0,414.7 L1389.0,409.9 L1392.0,405.2 L1395.0,400.5 L1398.0,395.9 L1401.0,391.3 L1404.0,386.7 L1407.0,382.2 L1410.0,377.6 L1413.0,373.2 L1416.0,368.7 L1419.0,364.3 L1422.0,359.9 L1425.0,355.5 L1428.0,351.2 L1431.0,346.9 L1434.0,342.6 L1437.0,338.4 L1440.0,334.2 L1443.0,330.0 L1446.0,325.9 L1449.0,321.9 L1452.0,317.8 L1455.0,313.8 L1458.0,309.9 L1461.0,306.0 L1464.0,302.1 L1467.0,298.2 L1470.0,294.4 L1473.0,290.6 L1476.0,286.9 L1479.0,283.2 L1482.0,279.5 L1485.0,275.8 L1488.0,272.2 L1491.0,268.6 L1494.0,265.1 L1497.0,261.5 L1500.0,258.0 L1503.0,254.6 L1506.0,251.2 L1509.0,247.8 L1512.0,244.4 L1515.0,241.1 L1518.0,237.8 L1521.0,234.6 L1524.0,231.4 L1527.0,228.2 L1530.0,225.1 L1533.0,222.0 L1536.0,219.0 L1539.0,215.9 L1542.0,213.0 L1545.0,210.0 L1548.0,207.1 L1551.0,204.3 L1554.0,201.4 L1557.0,198.7 L1560.0,195.9 L1563.0,193.2 L1566.0,190.5 L1569.0,187.9 L1572.0,185.3 L1575.0,182.8 L1578.0,180.3 L1581.0,177.8 L1584.0,175.3 L1587.0,172.9 L1590.0,170.6 L1593.0,168.2 L1596.0,165.9 L1599.0,163.7 L1602.0,161.4 L1605.0,159.2 L1608.0,157.1 L1611.0,155.0 L1614.0,152.9 L1617.0,150.8 L1620.0,148.8 L1623.0,146.8 L1626.0,144.9 L1629.0,142.9 L1632.0,141.0 L1635.0,139.2 L1638.0,137.4 L1641.0,135.6 L1644.0,133.8 L1647.0,132.1 L1650.0,130.4 L1653.0,128.8 L1656.0,127.2 L1659.0,125.6 L1662.0,124.0 L1665.0,122.5 L1668.0,121.0 L1671.0,119.6 L1674.0,118.2 L1677.0,116.8 L1680.0,115.4 L1683.0,114.1 L1686.0,112.9 L1689.0,111.7 L1692.0,110.5 L1695.0,109.3 L1698.0,108.2 L1701.0,107.1 L1704.0,106.1 L1707.0,105.1 L1710.0,104.1 L1713.0,103.2 L1716.0,102.3 L1719.0,101.4 L1722.0,100.6 L1725.0,99.8 L1728.0,99.0 L1731.0,98.3 L1734.0,97.7 L1737.0,97.0 L1740.0,96.4 L1743.0,95.8 L1746.0,95.3 L1749.0,94.8 L1752.0,94.3 L1755.0,93.9 L1758.0,93.5 L1761.0,93.1 L1764.0,92.7 L1767.0,92.4 L1770.0,92.2 L1773.0,91.9 L1776.0,91.7 L1779.0,91.5 L1782.0,91.3 L1785.0,91.2 L1788.0,91.1 L1791.0,91.0 L1794.0,90.9 L1797.0,90.9 L1800.0,90.9 L1803.0,90.9 L1806.0,91.0 L1809.0,91.0 L1812.0,91.1 L1815.0,91.2 L1818.0,91.4 L1821.0,91.5 L1824.0,91.7 L1827.0,91.9 L1830.0,92.1 L1833.0,92.4 L1836.0,92.7 L1839.0,93.0 L1842.0,93.3 L1845.0,93.7 L1848.0,94.1 L1851.0,94.5 L1854.0,94.9 L1857.0,95.4 L1860.0,95.9 L1863.0,96.4 L1866.0,96.9 L1869.0,97.5 L1872.0,98.1 L1875.0,98.7 L1878.0,99.4 L1881.0,100.0 L1884.0,100.7 L1887.0,101.4 L1890.0,102.2 L1893.0,102.9 L1896.0,103.7 L1899.0,104.5 L1902.0,105.3 L1905.0,106.2 L1908.0,107.1 L1911.0,108.0 L1914.0,108.9 L1917.0,109.8 L1920.0,110.8 L1923.0,111.8 L1926.0,112.8 L1929.0,113.8 L1932.0,114.9 L1935.0,116.0 L1938.0,117.1 L1941.0,118.2 L1944.0,119.3 L1947.0,120.5 L1950.0,121.6 L1953.0,122.8 L1956.0,124.1 L1959.0,125.3 L1962.0,126.6 L1965.0,127.8 L1968.0,129.1 L1971.0,130.4 L1974.0,131.8 L1977.0,133.1 L1980.0,134.5 L1983.0,135.8 L1986.0,137.2 L1989.0,138.6 L1992.0,140.1 L1995.0,141.5 L1998.0,142.9 L2001.0,144.4 L2004.0,145.8 L2007.0,147.3 L2010.0,148.8 L2013.0,150.3 L2016.0,151.8 L2019.0,153.3 L2022.0,154.8 L2025.0,156.4 L2028.0,157.9 L2031.0,159.4 L2034.0,161.0 L2037.0,162.6 L2040.0,164.1 L2043.0,165.7 L2046.0,167.3 L2049.0,169.0 L2052.0,170.6 L2055.0,172.2 L2058.0,173.9 L2061.0,175.6 L2064.0,177.3 L2067.0,179.0 L2070.0,180.7 L2071.0,181.3"/>
</g>
<rect class="ax" x="1297" y="884" width="753" height="548" style="fill:#ffffff"/>
<g class="cv" shape-rendering="crispEdges">
<path stroke="#0072BD" stroke-width="9" d="M1314,980.5 H1489"/>
<path stroke="#D95319" stroke-width="10" stroke-dasharray="28.9 26.94" stroke-dashoffset="0.9" d="M1314,1158 H1489"/>
<path stroke="#EDB120" stroke-width="9" stroke-dasharray="28.9 26.94" stroke-dashoffset="0.9" d="M1314,1335.5 H1489"/>
</g>
<text class="rm" fill="#000000" aria-label="x2(t)"><tspan x="1507.8" y="1018.2" font-size="148.6" font-style="italic" textLength="72.6" lengthAdjust="spacingAndGlyphs">x</tspan><tspan x="1584.3" y="1037.9" font-size="104.1" textLength="52.6" lengthAdjust="spacingAndGlyphs">2</tspan><tspan x="1651.5" y="1018.1" font-size="163.3" textLength="44.6" lengthAdjust="spacingAndGlyphs">(</tspan><tspan x="1694.4" y="1016.3" font-size="165.5" font-style="italic" textLength="49.7" lengthAdjust="spacingAndGlyphs">t</tspan><tspan x="1755.4" y="1018.1" font-size="163.3" textLength="45.4" lengthAdjust="spacingAndGlyphs">)</tspan></text>
<text class="rm" fill="#000000" aria-label="z^1GFO(t)"><tspan x="1508.7" y="1195.2" font-size="147.3" font-style="italic" textLength="64.6" lengthAdjust="spacingAndGlyphs">z</tspan><tspan x="1526.3" y="1137.2" font-size="67.3" class="tk" textLength="41.5" lengthAdjust="spacingAndGlyphs">^</tspan><tspan x="1568.0" y="1215.2" font-size="103.6" textLength="50.1" lengthAdjust="spacingAndGlyphs">1</tspan><tspan x="1619.3 1705.1 1777.5" y="1215.6" font-size="111.5" font-style="italic">GFO</tspan><tspan x="1874.8" y="1195.6" font-size="162.1" textLength="46.7" lengthAdjust="spacingAndGlyphs">(</tspan><tspan x="1918.8" y="1193.6" font-size="165.2" font-style="italic" textLength="50.6" lengthAdjust="spacingAndGlyphs">t</tspan><tspan x="1979.3" y="1195.6" font-size="162.1" textLength="46.0" lengthAdjust="spacingAndGlyphs">)</tspan></text>
<text class="rm" fill="#000000" aria-label="z^1PO(t)"><tspan x="1508.7" y="1372.7" font-size="147.9" font-style="italic" textLength="64.6" lengthAdjust="spacingAndGlyphs">z</tspan><tspan x="1526.3" y="1314.4" font-size="67.3" class="tk" textLength="41.5" lengthAdjust="spacingAndGlyphs">^</tspan><tspan x="1568.0" y="1392.7" font-size="104.1" textLength="50.1" lengthAdjust="spacingAndGlyphs">1</tspan><tspan x="1628.1 1697.7" y="1393.1" font-size="111.5" font-style="italic">PO</tspan><tspan x="1794.7" y="1373.0" font-size="162.2" textLength="46.7" lengthAdjust="spacingAndGlyphs">(</tspan><tspan x="1838.7" y="1371.0" font-size="165.2" font-style="italic" textLength="50.6" lengthAdjust="spacingAndGlyphs">t</tspan><tspan x="1899.2" y="1373.0" font-size="162.2" textLength="46.0" lengthAdjust="spacingAndGlyphs">)</tspan></text>
<text class="rm" fill="#262626" style="white-space:pre" aria-label="Time (s)"><tspan x="850.8" y="1693.8" font-size="154.2" textLength="102.0" lengthAdjust="spacingAndGlyphs">T</tspan><tspan x="954.9" y="1693.8" font-size="149.4" textLength="38.6" lengthAdjust="spacingAndGlyphs">i</tspan><tspan x="994.4" y="1693.8" font-size="137.9" textLength="121.9" lengthAdjust="spacingAndGlyphs">m</tspan><tspan x="1112.7" y="1694.6" font-size="142.0" textLength="70.0" lengthAdjust="spacingAndGlyphs">e</tspan><tspan x="1190" y="1693.8" font-size="150"> </tspan><tspan x="1235.4" y="1696.3" font-size="163.6" textLength="47.1" lengthAdjust="spacingAndGlyphs">(</tspan><tspan x="1282.1" y="1695.0" font-size="142.8" textLength="62.1" lengthAdjust="spacingAndGlyphs">s</tspan><tspan x="1345.5" y="1696.3" font-size="163.6" textLength="46.4" lengthAdjust="spacingAndGlyphs">)</tspan></text>
</svg>
</body></html>
